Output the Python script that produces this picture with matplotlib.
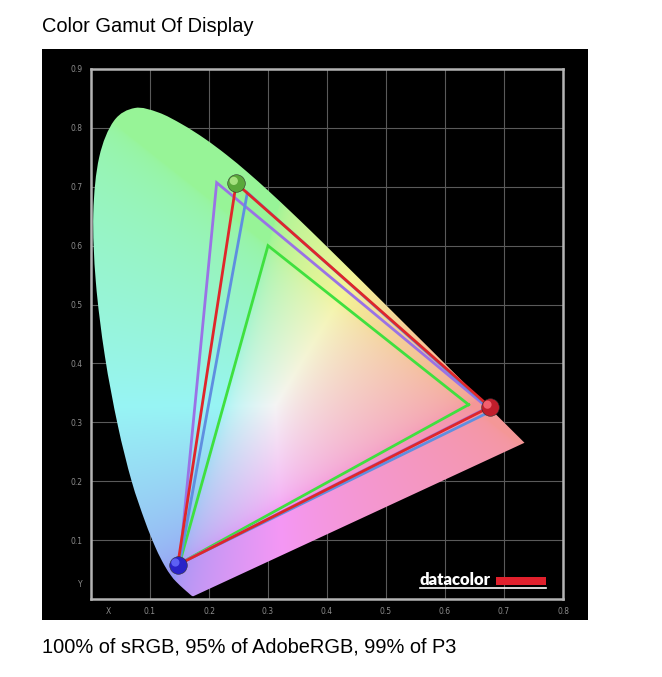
import numpy as np
import matplotlib.pyplot as plt
from matplotlib.patches import PathPatch, Rectangle
from matplotlib.path import Path
from matplotlib.lines import Line2D

# ==========================================
# data: CIE 1931 spectral locus (x, y)
# ==========================================
locus_x = [0.1741, 0.1733, 0.1714, 0.1689, 0.1644, 0.1566, 0.1440, 0.1355, 0.1241,
           0.1096, 0.0913, 0.0687, 0.0454, 0.0235, 0.0082, 0.0039, 0.0139, 0.0389,
           0.0743, 0.1142, 0.1547, 0.1929, 0.2296, 0.2658, 0.3016, 0.3373, 0.3731,
           0.4087, 0.4441, 0.4788, 0.5125, 0.5448, 0.5752, 0.6029, 0.6270, 0.6658,
           0.6915, 0.7079, 0.7190, 0.7260, 0.7347]
locus_y = [0.0050, 0.0048, 0.0051, 0.0069, 0.0109, 0.0177, 0.0297, 0.0399, 0.0578,
           0.0868, 0.1327, 0.2007, 0.2950, 0.4127, 0.5384, 0.6548, 0.7502, 0.8120,
           0.8338, 0.8262, 0.8059, 0.7816, 0.7543, 0.7243, 0.6923, 0.6589, 0.6245,
           0.5896, 0.5547, 0.5202, 0.4866, 0.4544, 0.4242, 0.3965, 0.3725, 0.3340,
           0.3083, 0.2920, 0.2809, 0.2740, 0.2653]

# gamut triangles (R, G, B)
srgb_x = [0.64, 0.30, 0.15]
srgb_y = [0.33, 0.60, 0.06]
adobe_x = [0.672, 0.213, 0.15]
adobe_y = [0.325, 0.707, 0.06]
p3_x = [0.68, 0.265, 0.15]
p3_y = [0.32, 0.69, 0.06]
display_x = [0.676, 0.246, 0.147]
display_y = [0.326, 0.706, 0.058]

x_ticks = [0.1, 0.2, 0.3, 0.4, 0.5, 0.6, 0.7, 0.8]
y_ticks = [0.1, 0.2, 0.3, 0.4, 0.5, 0.6, 0.7, 0.8, 0.9]

W, H = 662, 677
fig = plt.figure(figsize=(W / 100, H / 100), dpi=100)
fig.patch.set_facecolor('white')

# black panel behind the chart
fig.add_artist(Rectangle((42 / W, 1 - 620 / H), 546 / W, 571 / H,
                         transform=fig.transFigure, facecolor='black', edgecolor='none', zorder=0))

ax = fig.add_axes([91 / W, 1 - 599 / H, 472 / W, 530 / H])
ax.set_facecolor('black')
ax.set_xlim(0, 0.8)
ax.set_ylim(0, 0.9)

# ==========================================
# chromaticity fill, clipped to the locus
# ==========================================
gx, gy = np.meshgrid(np.linspace(0.0005, 0.8, 500), np.linspace(0.0005, 0.9, 560))
X = gx / gy
Z = (1 - gx - gy) / gy
M = np.array([[3.2406, -1.5372, -0.4986],
              [-0.9689, 1.8758, 0.0415],
              [0.0557, -0.2040, 1.0570]])
rgb = np.stack([X, np.ones_like(X), Z], axis=-1) @ M.T
rgb = np.clip(rgb, 0, None)
rgb = rgb / rgb.max(axis=-1, keepdims=True)
rgb = rgb ** (1 / 2.2)
rgb = (0.62 + 0.38 * rgb) * 0.96
im = ax.imshow(rgb, origin='lower', extent=[0, 0.8, 0, 0.9], aspect='auto',
               interpolation='bilinear', zorder=1)

# smooth outline through the locus points (Catmull-Rom as cubic Bezier)
P = np.column_stack([locus_x, locus_y])
n = len(P)
verts = [P[0]]
codes = [Path.MOVETO]
for i in range(n - 1):
    p0 = P[max(i - 1, 0)]
    p1, p2 = P[i], P[i + 1]
    p3 = P[min(i + 2, n - 1)]
    verts += [p1 + (p2 - p0) / 6, p2 - (p3 - p1) / 6, p2]
    codes += [Path.CURVE4] * 3
verts += [P[0], P[0]]
codes += [Path.LINETO, Path.CLOSEPOLY]
locus = PathPatch(Path(verts, codes), facecolor='none', edgecolor='none',
                  transform=ax.transData)
ax.add_patch(locus)
im.set_clip_path(locus)

# ==========================================
# gamut triangles
# ==========================================
tri = [(srgb_x, srgb_y, '#3fe03f'),
       (adobe_x, adobe_y, '#9a72e6'),
       (p3_x, p3_y, '#5f8fe0'),
       (display_x, display_y, '#e0262a')]
for tx, ty, c in tri:
    ax.plot(tx + tx[:1], ty + ty[:1], color=c, lw=2.0, zorder=3, solid_joinstyle='miter')

# balls at the display primaries
ball_colors = ['#c01e2c', '#5aa83a', '#2a22c8']
hi_colors = ['#ff7080', '#b8f090', '#6a70ff']
for i in range(3):
    ax.scatter(display_x[i], display_y[i], s=160, color=ball_colors[i],
               edgecolor='#303030', linewidth=0.4, zorder=4)
    ax.scatter(display_x[i] - 0.004, display_y[i] + 0.004, s=35, color=hi_colors[i],
               edgecolor='none', alpha=0.8, zorder=5)

# ==========================================
# grid, frame and labels
# ==========================================
ax.set_xticks(x_ticks)
ax.set_yticks(y_ticks)
ax.grid(True, color='#5a5a5a', lw=0.8)
ax.set_axisbelow(True)
for s in ax.spines.values():
    s.set_color('#b4b4b4')
    s.set_linewidth(1.8)
ax.tick_params(length=0, colors='#8c8c8c', labelsize=5.5, pad=6)
ax.set_xticklabels([f'{v:.1f}' for v in x_ticks])
ax.set_yticklabels([f'{v:.1f}' for v in y_ticks])
ax.text(-0.014, 0.025, 'Y', color='#8c8c8c', fontsize=5.5, ha='right', va='center')
ax.text(0.03, -0.013, 'X', color='#8c8c8c', fontsize=5.5, ha='center', va='top')

# datacolor logo
fig.text(419 / W, 1 - 585 / H, 'datacolor', color='white', fontsize=12,
         fontweight='heavy', family='Lato', ha='left', va='baseline')
fig.add_artist(Rectangle((496 / W, 1 - 585 / H), 50 / W, 8 / H, transform=fig.transFigure,
                         facecolor='#e0202c', edgecolor='none'))
fig.add_artist(Line2D([420 / W, 546 / W], [1 - 588 / H, 1 - 588 / H],
                      transform=fig.transFigure, color='white', lw=1.2))

fig.text(42 / W, 1 - 27 / H, 'Color Gamut Of Display', fontsize=14.4,
         family='Liberation Sans', ha='left', va='center')
fig.text(42 / W, 1 - 647 / H, '100% of sRGB, 95% of AdobeRGB, 99% of P3', fontsize=14.4,
         family='Liberation Sans', ha='left', va='center')

plt.savefig('out.png', dpi=100)
